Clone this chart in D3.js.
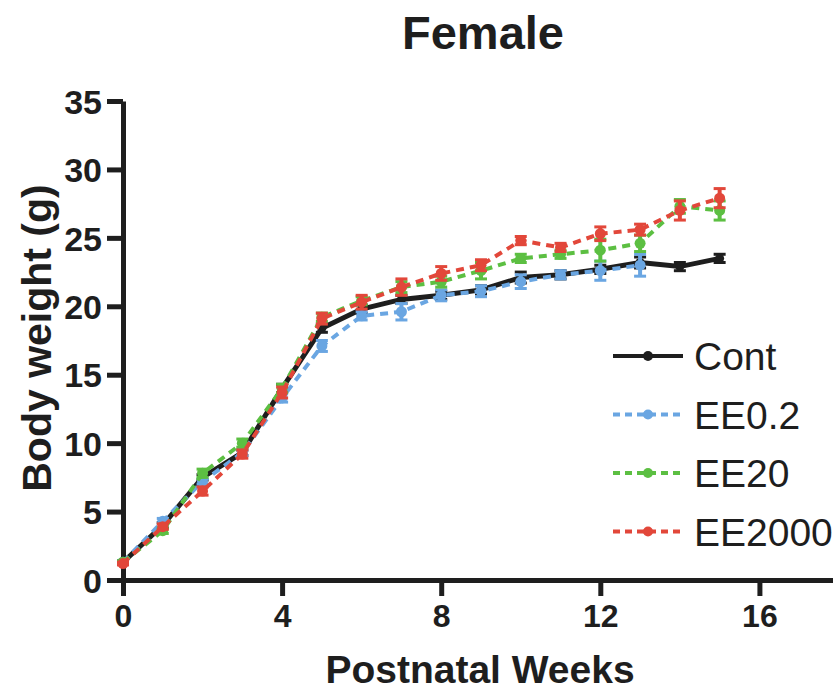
<!DOCTYPE html>
<html>
<head>
<meta charset="utf-8">
<script src="https://cdn.jsdelivr.net/npm/d3@7"></script>
<style>
  body { margin: 0; background: #fff; }
  svg { display: block; font-family: "Liberation Sans", Arial, Helvetica, sans-serif; }
</style>
</head>
<body>
<div id="chart"></div>
<script>
// data (mean body weight in g, with SEM)
const weeks = [0, 1, 2, 3, 4, 5, 6, 7, 8, 9, 10, 11, 12, 13, 14, 15];
const seriesNames = ["Cont", "EE0.2", "EE20", "EE2000"];
const contMean = [1.3, 4.0, 7.5, 9.3, 14.0, 18.4, 19.8, 20.5, 20.8, 21.2, 22.1, 22.3, 22.7, 23.2, 22.9, 23.5];
const contErr = [0.1, 0.2, 0.2, 0.2, 0.3, 0.3, 0.3, 0.3, 0.3, 0.3, 0.4, 0.3, 0.3, 0.4, 0.3, 0.3];
const ee02Mean = [1.3, 4.3, 7.2, 9.3, 13.3, 17.1, 19.3, 19.6, 20.8, 21.1, 21.8, 22.3, 22.6, 23.0];
const ee02Err = [0.1, 0.2, 0.2, 0.2, 0.3, 0.4, 0.3, 0.6, 0.4, 0.4, 0.5, 0.3, 0.7, 0.8];
const ee20Mean = [1.3, 3.6, 7.8, 10.0, 14.0, 19.2, 20.4, 21.4, 21.8, 22.6, 23.5, 23.8, 24.1, 24.6, 27.3, 27.0];
const ee20Err = [0.1, 0.2, 0.3, 0.3, 0.3, 0.3, 0.3, 0.4, 0.4, 0.6, 0.3, 0.3, 0.8, 0.6, 0.5, 0.7];
const ee2000Mean = [1.2, 3.9, 6.5, 9.2, 13.7, 19.1, 20.3, 21.4, 22.4, 23.0, 24.8, 24.3, 25.3, 25.6, 27.0, 27.9];
const ee2000Err = [0.1, 0.2, 0.3, 0.3, 0.4, 0.4, 0.5, 0.6, 0.5, 0.4, 0.3, 0.3, 0.5, 0.4, 0.7, 0.7];
const xTicks = [0, 4, 8, 12, 16];
const yTicks = [0, 5, 10, 15, 20, 25, 30, 35];

const WIDTH = 833;
const HEIGHT = 690;
const colors = {"Cont": "#1e1e1e", "EE0.2": "#6aa6e2", "EE20": "#5cbf42", "EE2000": "#e2473a"};

const series = [
  {name: "Cont", mean: contMean, err: contErr, dash: null},
  {name: "EE0.2", mean: ee02Mean, err: ee02Err, dash: "8,6"},
  {name: "EE20", mean: ee20Mean, err: ee20Err, dash: "8,6"},
  {name: "EE2000", mean: ee2000Mean, err: ee2000Err, dash: "8,6"}
];

const svg = d3.select("#chart").append("svg").attr("width", WIDTH).attr("height", HEIGHT);

const x = d3.scaleLinear().domain([0, 17.85]).range([123, 833]);
const y = d3.scaleLinear().domain([0, 35]).range([580, 101]);

// title
svg.append("text")
  .attr("x", 483).attr("y", 49)
  .attr("text-anchor", "middle")
  .style("font-size", "47px").style("font-weight", "bold")
  .attr("fill", "#1e1e1e")
  .text("Female");

// axes
const xAxis = svg.append("g")
  .attr("transform", "translate(0,580)")
  .call(d3.axisBottom(x).tickValues(xTicks).tickSize(16).tickPadding(8).tickSizeOuter(0));
const yAxis = svg.append("g")
  .attr("transform", "translate(123,0)")
  .call(d3.axisLeft(y).tickValues(yTicks).tickSize(16).tickPadding(5).tickSizeOuter(0));

[xAxis, yAxis].forEach(g => {
  g.select(".domain").attr("stroke", "#1e1e1e").attr("stroke-width", 5);
  g.selectAll(".tick line").attr("stroke", "#1e1e1e").attr("stroke-width", 5);
  g.selectAll(".tick text")
    .attr("fill", "#1e1e1e")
    .style("font-weight", "bold")
    .style("font-family", "'Liberation Sans', Arial, sans-serif");
});
xAxis.selectAll(".tick text").style("font-size", "32px");
yAxis.selectAll(".tick text").style("font-size", "34px").attr("dy", "0.36em");

// axis titles
svg.append("text")
  .attr("x", 480).attr("y", 683)
  .attr("text-anchor", "middle")
  .style("font-size", "39px").style("font-weight", "bold")
  .attr("fill", "#1e1e1e")
  .text("Postnatal Weeks");

svg.append("text")
  .attr("transform", "translate(51,338) rotate(-90)")
  .attr("text-anchor", "middle")
  .style("font-size", "41px").style("font-weight", "bold")
  .attr("fill", "#1e1e1e")
  .text("Body weight (g)");

// lines, error bars, markers
const line = d3.line().x(d => x(d.w)).y(d => y(d.v));

series.forEach(s => {
  const pts = s.mean.map((v, i) => ({w: weeks[i], v: v, e: s.err[i]}));
  const c = colors[s.name];
  const g = svg.append("g");

  const eb = g.selectAll(".eb").data(pts).enter().append("g");
  eb.append("line")
    .attr("x1", d => x(d.w)).attr("x2", d => x(d.w))
    .attr("y1", d => y(d.v - d.e)).attr("y2", d => y(d.v + d.e))
    .attr("stroke", c).attr("stroke-width", 4);
  eb.append("line")
    .attr("x1", d => x(d.w) - 6).attr("x2", d => x(d.w) + 6)
    .attr("y1", d => y(d.v + d.e)).attr("y2", d => y(d.v + d.e))
    .attr("stroke", c).attr("stroke-width", 3);
  eb.append("line")
    .attr("x1", d => x(d.w) - 6).attr("x2", d => x(d.w) + 6)
    .attr("y1", d => y(d.v - d.e)).attr("y2", d => y(d.v - d.e))
    .attr("stroke", c).attr("stroke-width", 3);

  g.append("path")
    .datum(pts)
    .attr("d", line)
    .attr("fill", "none")
    .attr("stroke", c)
    .attr("stroke-width", s.dash ? 4 : 5)
    .attr("stroke-dasharray", s.dash);

  g.selectAll("circle").data(pts).enter().append("circle")
    .attr("cx", d => x(d.w)).attr("cy", d => y(d.v))
    .attr("r", s.name === "Cont" ? 4.5 : 5.5)
    .attr("fill", c);
});

// legend
const legend = svg.append("g").attr("transform", "translate(613,356)");
const item = legend.selectAll("g").data(series).enter().append("g")
  .attr("transform", (d, i) => `translate(0,${i * 58.5})`);
item.append("line")
  .attr("x1", 0).attr("x2", 70).attr("y1", 0).attr("y2", 0)
  .attr("stroke", d => colors[d.name])
  .attr("stroke-width", 4)
  .attr("stroke-dasharray", d => d.dash ? "7,5" : null);
item.append("circle")
  .attr("cx", 35).attr("cy", 0).attr("r", 5)
  .attr("fill", d => colors[d.name]);
item.append("text")
  .attr("x", 81).attr("y", 14)
  .style("font-size", "39px")
  .attr("fill", "#1e1e1e")
  .text(d => d.name);
</script>
</body>
</html>
